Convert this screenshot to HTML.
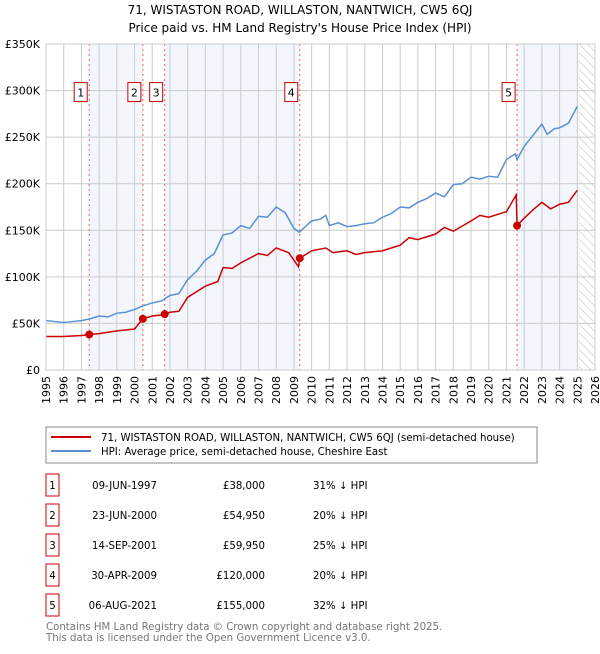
<!DOCTYPE html>
<html><head><meta charset="utf-8"><style>
body{margin:0;background:#fff;font-family:"DejaVu Sans","Liberation Sans",sans-serif;}
svg text{font-family:"DejaVu Sans","Liberation Sans",sans-serif;}
</style></head><body>
<svg id="c" width="600" height="650" xmlns="http://www.w3.org/2000/svg">
<defs><pattern id="hatch" width="6" height="6" patternUnits="userSpaceOnUse" patternTransform="rotate(-45)"><line x1="0" y1="0" x2="0" y2="6" stroke="#bbb" stroke-width="1"/></pattern></defs>
<text x="300" y="14" text-anchor="middle" font-size="12" fill="#000">71, WISTASTON ROAD, WILLASTON, NANTWICH, CW5 6QJ</text>
<text x="300" y="32" text-anchor="middle" font-size="12" fill="#000">Price paid vs. HM Land Registry's House Price Index (HPI)</text>
<g id="plot"></g>
<g id="legend">
<rect x="46" y="427" width="491" height="36" fill="#fff" stroke="#888"/>
<line x1="51" y1="437" x2="91" y2="437" stroke="#cc0000" stroke-width="2"/>
<text x="101" y="441" font-size="10.2">71, WISTASTON ROAD, WILLASTON, NANTWICH, CW5 6QJ (semi-detached house)</text>
<line x1="51" y1="451" x2="91" y2="451" stroke="#5b8fd4" stroke-width="2"/>
<text x="101" y="455" font-size="10.2">HPI: Average price, semi-detached house, Cheshire East</text>
</g>
<g id="table" font-size="10.2"></g>
<text x="46" y="630" font-size="10.2" fill="#777">Contains HM Land Registry data © Crown copyright and database right 2025.</text>
<text x="46" y="641" font-size="10.2" fill="#777">This data is licensed under the Open Government Licence v3.0.</text>
</svg>
<script>
const hpiYears=[1995,1995.5,1996,1996.5,1997,1997.5,1998,1998.5,1999,1999.5,2000,2000.5,2001,2001.5,2002,2002.5,2003,2003.5,2004,2004.5,2005,2005.5,2006,2006.5,2007,2007.5,2008,2008.5,2009,2009.3,2010,2010.5,2010.8,2011,2011.5,2012,2012.5,2013,2013.5,2014,2014.5,2015,2015.5,2016,2016.5,2017,2017.5,2018,2018.5,2019,2019.5,2020,2020.5,2021,2021.5,2021.6,2022,2022.5,2023,2023.3,2023.7,2024,2024.5,2025];
const hpiValues=[53,52,51,52,53,55,58,57,61,62,65,69,72,74,80,82,97,106,118,125,145,147,155,152,165,164,175,169,152,148,160,162,166,155,158,154,155,157,158,164,168,175,174,180,184,190,186,199,200,207,205,208,207,226,232,226,240,252,264,253,259,260,265,283];
const ppYears=[1995,1996,1997,1997.44,1998,1999,2000,2000.47,2001,2001.5,2001.7,2002,2002.5,2003,2004,2004.7,2005,2005.5,2006,2007,2007.5,2008,2008.7,2009.25,2009.33,2010,2010.8,2011.2,2012,2012.5,2013,2014,2015,2015.5,2016,2017,2017.5,2018,2019,2019.5,2020,2021,2021.55,2021.6,2022,2022.5,2023,2023.5,2024,2024.5,2025];
const ppValues=[36,36,37,38,39,42,44,55,58,59,60,62,63,78,90,95,110,109,115,125,123,131,126,111,120,128,131,126,128,124,126,128,134,142,140,146,153,149,160,166,164,170,188,155,163,172,180,173,178,180,193];
const saleLabels=["1","2","3","4","5"];
const saleYears=[1997.44,2000.47,2001.7,2009.33,2021.6];
const salePrices=[38,54.95,59.95,120,155];
const saleDates=["09-JUN-1997","23-JUN-2000","14-SEP-2001","30-APR-2009","06-AUG-2021"];
const salePriceText=["£38,000","£54,950","£59,950","£120,000","£155,000"];
const salePct=["31% ↓ HPI","20% ↓ HPI","25% ↓ HPI","20% ↓ HPI","32% ↓ HPI"];
const yTicks=[0,50,100,150,200,250,300,350];
const yTickLabels=["£0","£50K","£100K","£150K","£200K","£250K","£300K","£350K"];

const X0=46,X1=595,Y0=370,Y1=44,xMin=1995,xMax=2026,yMax=350;
const xs=v=>X0+(v-xMin)/(xMax-xMin)*(X1-X0);
const ys=v=>Y0-v/yMax*(Y0-Y1);
const NS="http://www.w3.org/2000/svg";
function mk(p,t,a){const e=document.createElementNS(NS,t);for(const k in a)e.setAttribute(k,a[k]);p.appendChild(e);return e;}
const g=document.getElementById('plot');
const bandEnds=[[saleYears[0],saleYears[1]],[saleYears[2],saleYears[3]],[saleYears[4],2025.1]];
bandEnds.forEach((b,i)=>{const r=mk(g,'rect',{x:xs(b[0]),y:Y1,width:xs(b[1])-xs(b[0]),height:Y0-Y1,fill:'#f3f6fd'});

});
const h=mk(g,'rect',{x:xs(2025.1),y:Y1,width:X1-xs(2025.1),height:Y0-Y1,fill:'url(#hatch)'});


for(let y=xMin;y<=xMax;y++){const l=mk(g,'line',{x1:xs(y),x2:xs(y),y1:Y1,y2:Y0,stroke:'#ccc','stroke-width':1});


const t=mk(g,'text',{x:0,y:0,'font-size':11,'text-anchor':'end',transform:`translate(${xs(y)+4},${Y0+6}) rotate(-90)`});
t.textContent=y;

}
yTicks.forEach((v,i)=>{const l=mk(g,'line',{x1:X0,x2:X1,y1:ys(v),y2:ys(v),stroke:'#ccc','stroke-width':1});


const t=mk(g,'text',{x:X0-6,y:ys(v)+4,'font-size':11,'text-anchor':'end'});
t.textContent=yTickLabels[i];

});
saleYears.forEach((v,i)=>{const l=mk(g,'line',{x1:xs(v),x2:xs(v),y1:Y1,y2:Y0,stroke:'#f06060','stroke-dasharray':'2,3','stroke-width':1});

});
const hp=mk(g,'polyline',{points:hpiYears.map((y,i)=>xs(y)+','+ys(hpiValues[i])).join(' '),fill:'none',stroke:'#5b8fd4','stroke-width':1.5});


const pp=mk(g,'polyline',{points:ppYears.map((y,i)=>xs(y)+','+ys(ppValues[i])).join(' '),fill:'none',stroke:'#cc0000','stroke-width':1.5});


saleYears.forEach((v,i)=>{const c=mk(g,'circle',{cx:xs(v),cy:ys(salePrices[i]),r:4,fill:'#cc0000'});


const r=mk(g,'rect',{x:xs(v)-15,y:ys(300)-8,width:13,height:19,fill:'#fff',stroke:'#cc0000'});


const t=mk(g,'text',{x:xs(v)-8.5,y:ys(300)+6,'font-size':11,'text-anchor':'middle'});
t.textContent=saleLabels[i];

});
const fr=mk(g,'rect',{x:X0,y:Y1,width:X1-X0,height:Y0-Y1,fill:'none',stroke:'#ccc'});


const tb=document.getElementById('table');
saleLabels.forEach((s,i)=>{const y=483+i*30;
const r=mk(tb,'rect',{x:46,y:y-9,width:13,height:22,fill:'#fff',stroke:'#cc0000'});


const cells=[[52.5,s,'middle'],[157,saleDates[i],'end'],[265,salePriceText[i],'end'],[313,salePct[i],'start']];
cells.forEach(c=>{const t=mk(tb,'text',{x:c[0],y:y+6,'text-anchor':c[2]});
t.textContent=c[1];

});});
</script>
</body></html>
